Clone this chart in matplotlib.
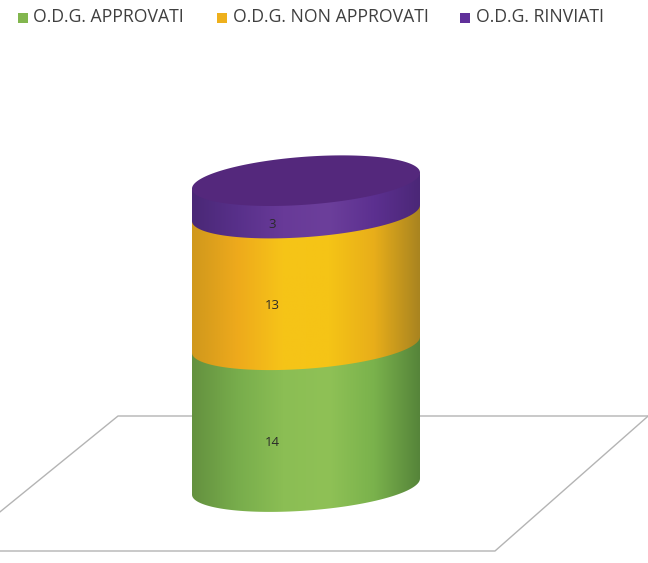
import numpy as np
import matplotlib
matplotlib.use('Agg')
import matplotlib.pyplot as plt
from matplotlib.colors import LinearSegmentedColormap
from matplotlib.patches import Polygon, Rectangle

plt.rcParams['font.family'] = ['Open Sans', 'DejaVu Sans']

# Chart data
series_names = ['O.D.G. APPROVATI', 'O.D.G. NON APPROVATI', 'O.D.G. RINVIATI']
series_values = [14, 13, 3]
legend_colors = ['#82b64e', '#eeb01c', '#60309a']

# Side shading of each stacked slice, left to right
side_colors = [
    ['#64913f', '#78ad4c', '#8bbe54', '#8fc156', '#7ab24c', '#56843a'],
    ['#d0981c', '#eeaa1c', '#f6c418', '#f5c416', '#e8ae1a', '#a98420'],
    ['#4a2876', '#58308a', '#683a98', '#6c3f9b', '#5c3090', '#4b2777'],
]
top_color = '#54287c'

W, H = 648, 563
fig = plt.figure(figsize=(W / 100, H / 100), dpi=100)
ax = fig.add_axes([0, 0, 1, 1])

# 228 px for one bar width, 10.13 px for one unit of value
xlim = ((0 - 306) / 228, (W - 306) / 228)
ylim = ((486.6 - H) / 10.13, 486.6 / 10.13)


def px(x, y):
    return x / W, 1 - y / H


# Floor of the 3D chart
floor_lines = [[(-10, 551), (495, 551), (655, 410)], [(655, 416), (118, 416), (-10, 520)]]
for line in floor_lines:
    xs, ys = zip(*[px(*p) for p in line])
    ax.plot(xs, ys, color='#b4b4b4', lw=1, transform=ax.transAxes, zorder=1)


def ellipse(level, t):
    x = 0.5 * np.cos(t)
    y = level + 0.79 * np.cos(t) + 2.37 * np.sin(t)
    return x, y


def side_polygon(low, high):
    xl, yl = ellipse(low, np.linspace(np.pi, 2 * np.pi, 80))
    xh, yh = ellipse(high, np.linspace(0, np.pi, 80))
    return np.column_stack([np.r_[xl, xh], np.r_[yl, yh]])


# Stacked cylinder, drawn from the bottom up
bottom = 0
for i, value in enumerate(series_values):
    top = bottom + value
    poly = Polygon(side_polygon(bottom, top), closed=True, transform=ax.transData,
                   fc='none', ec='none')
    ax.add_patch(poly)
    cmap = LinearSegmentedColormap.from_list('side', side_colors[i])
    grad = np.linspace(0, 1, 256).reshape(1, -1)
    im = ax.imshow(grad, cmap=cmap, extent=[-0.5, 0.5, bottom - 4, top + 4],
                   aspect='auto', zorder=2 + i, interpolation='bilinear')
    im.set_clip_path(poly)
    ax.text(-0.15, bottom + value / 2 - 2.6, str(value), fontsize=9.5, color='#2a2a2a',
            ha='center', va='center', zorder=10)
    bottom = top

xt, yt = ellipse(bottom + 0.2, np.linspace(0, 2 * np.pi, 160))
ax.fill(xt, yt, color=top_color, zorder=8, lw=0)

ax.set_xlim(xlim)
ax.set_ylim(ylim)
ax.axis('off')

# Legend along the top
square_x = [18, 217, 460]
text_x = [33, 233, 476]
for name, color, sx, tx in zip(series_names, legend_colors, square_x, text_x):
    x0, y0 = px(sx, 23)
    ax.add_patch(Rectangle((x0, y0), 10 / W, 10 / H, transform=ax.transAxes, fc=color, ec='none'))
    x1, y1 = px(tx, 17.5)
    ax.text(x1, y1, name, transform=ax.transAxes, fontsize=12.7, color='#3f3f3f',
            ha='left', va='center')

fig.savefig('out.png', dpi=100)
